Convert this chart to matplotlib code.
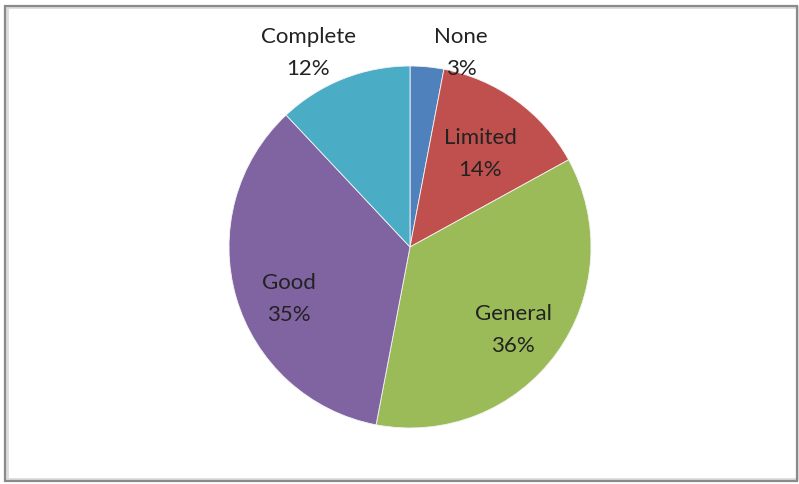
import matplotlib
matplotlib.use("Agg")
import matplotlib.pyplot as plt
from matplotlib.patches import Rectangle

# Data
categories = ["None", "Limited", "General", "Good", "Complete"]
shares = [3, 14, 36, 35, 12]
colors = ["#4F81BD", "#C0504D", "#9BBB59", "#8064A2", "#4BACC6"]

# Layout (pixel coordinates, origin top-left)
W, H = 799, 485
center_px = (410, 248)
radius_px = 181
label_pos_px = [(461, 53), (480, 154), (513, 330), (289, 299), (308, 53)]

plt.rcParams["font.family"] = ["Lato", "DejaVu Sans"]

fig = plt.figure(figsize=(W / 100, H / 100), dpi=100)
fig.patch.set_facecolor("white")
ax = fig.add_axes([0, 0, 1, 1])

# The y axis is inverted below, so a start of -90 points up on screen and
# counterclockwise in data space runs clockwise on screen.
wedges, _ = ax.pie(
    shares,
    colors=colors,
    startangle=-90,
    counterclock=True,
    center=center_px,
    radius=radius_px,
    wedgeprops=dict(linewidth=0.6, edgecolor="#f4f4f4"),
    frame=True,
)
ax.set_xlim(0, W)
ax.set_ylim(H, 0)
ax.set_aspect("equal")
ax.axis("off")

for name, val, (x, y) in zip(categories, shares, label_pos_px):
    ax.text(x, y, f"{name}\n{val}%", ha="center", va="center",
            fontsize=16, color="#222222", linespacing=1.75)

# Chart frame with soft shadow
fig.add_artist(Rectangle((7 / W, 1 - 480 / H), 790 / W, 472 / H,
                         transform=fig.transFigure, fill=False,
                         edgecolor="#dcdcdc", linewidth=2.0))
fig.add_artist(Rectangle((5 / W, 1 - 482 / H), 792 / W, 475 / H,
                         transform=fig.transFigure, fill=False,
                         edgecolor="#8a8a8a", linewidth=1.6))

fig.savefig("out.png", dpi=100, facecolor="white")
